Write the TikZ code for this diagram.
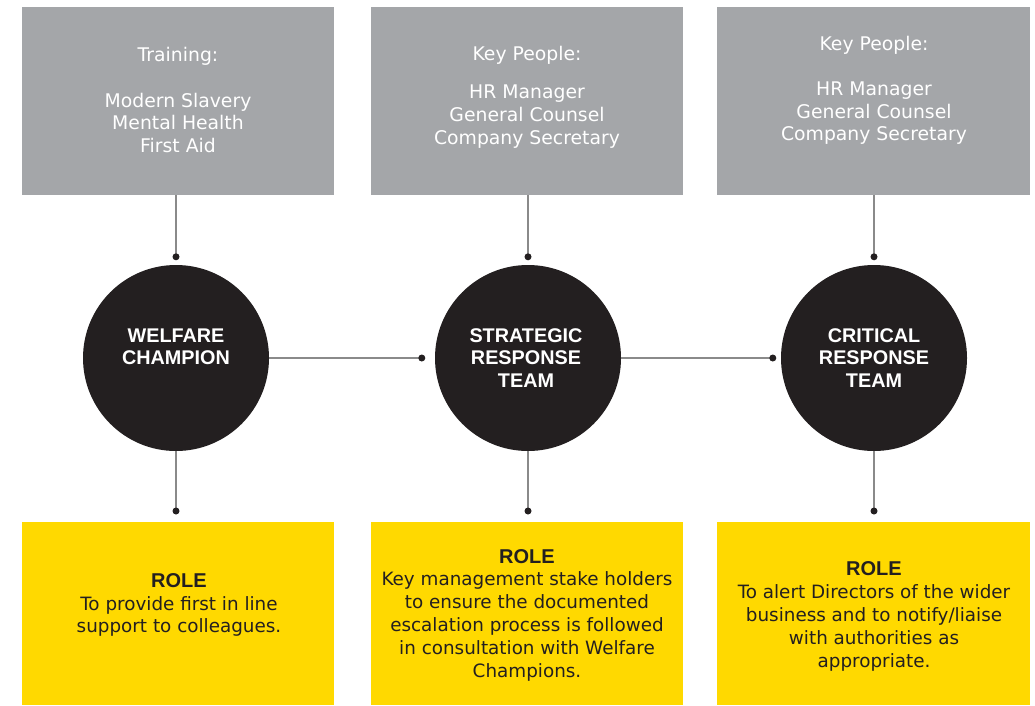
\documentclass[tikz,border=0pt]{standalone}
\usepackage{fontspec}
\setmainfont{DejaVu Sans}
\newfontfamily\headfont{Liberation Sans}
\usetikzlibrary{calc}
\definecolor{boxgray}{HTML}{A4A6A9}
\definecolor{roleyellow}{HTML}{FFD900}
\definecolor{darkcirc}{HTML}{231F20}
\definecolor{linegray}{HTML}{8A8A8A}
\newcommand{\rolehead}{{\headfont\bfseries\fontsize{20}{22.8}\selectfont ROLE}}
\begin{document}
\begin{tikzpicture}[x=1pt,y=-1pt,
  graybox/.style={fill=boxgray, minimum width=312pt, minimum height=188pt, inner sep=0pt, anchor=north west},
  yellowbox/.style={fill=roleyellow, minimum width=312pt, minimum height=183pt, inner sep=0pt, anchor=north west},
  bigcirc/.style={circle, fill=darkcirc, minimum size=186pt, inner sep=0pt},
  toptext/.style={text=white, align=center, inner sep=0pt, font=\fontsize{18.8}{22.7}\selectfont},
  circtext/.style={text=white, align=center, inner sep=0pt, font=\headfont\bfseries\fontsize{19.8}{22.5}\selectfont},
  roletext/.style={text=darkcirc, align=center, inner sep=0pt, font=\fontsize{18.35}{22.8}\selectfont},
  conn/.style={draw=linegray, line width=1.1pt},
  dotmark/.style={fill=darkcirc, circle, minimum size=7pt, inner sep=0pt}
]
\useasboundingbox (0,0) rectangle (1035,705);
\fill[white] (0,0) rectangle (1035,705);

% top boxes
\node[graybox] (t1) at (22,7) {};
\node[graybox] (t2) at (371,7) {};
\node[graybox, minimum width=313pt] (t3) at (717,7) {};

% circles
\node[bigcirc] (c1) at (176,358) {};
\node[bigcirc] (c2) at (528,358) {};
\node[bigcirc] (c3) at (874,358) {};

% bottom boxes
\node[yellowbox] (b1) at (22,522) {};
\node[yellowbox] (b2) at (371,522) {};
\node[yellowbox, minimum width=313pt] (b3) at (717,522) {};

% top texts
\node[toptext] (tt1) at (178,100) {Training:\\[22.7pt]Modern Slavery\\Mental Health\\First Aid};
\node[toptext] (tt2) at (527,97) {Key People:\\[16pt]HR Manager\\General Counsel\\Company Secretary};
\node[toptext] (tt3) at (874,90.5) {Key People:\\[22pt]HR Manager\\General Counsel\\Company Secretary};

% circle texts
\node[circtext] (ct1) at (176,347) {WELFARE\\CHAMPION};
\node[circtext] (ct2) at (526,358) {STRATEGIC\\RESPONSE\\TEAM};
\node[circtext] (ct3) at (874,358) {CRITICAL\\RESPONSE\\TEAM};

% role texts
\node[roletext] (rt1) at (179,605) {\rolehead\\To provide first in line\\support to colleagues.};
\node[roletext] (rt2) at (527,615) {\rolehead\\Key management stake holders\\to ensure the documented\\escalation process is followed\\in consultation with Welfare\\Champions.};
\node[roletext] (rt3) at (874,616.5) {\rolehead\\To alert Directors of the wider\\business and to notify/liaise\\with authorities as\\appropriate.};

% connector end points
\coordinate (d1t) at ($(c1.north)+(0,-8)$);
\coordinate (d2t) at ($(c2.north)+(0,-8)$);
\coordinate (d3t) at ($(c3.north)+(0,-8)$);
\coordinate (d1b) at ($(c1.south |- b1.north)+(0,-11)$);
\coordinate (d2b) at ($(c2.south |- b2.north)+(0,-11)$);
\coordinate (d3b) at ($(c3.south |- b3.north)+(0,-11)$);
\coordinate (d2h) at ($(c2.west)+(-13,0)$);
\coordinate (d3h) at ($(c3.west)+(-8,0)$);

\draw[conn] (t1.south -| c1) -- (d1t);
\draw[conn] (t2.south -| c2) -- (d2t);
\draw[conn] (t3.south -| c3) -- (d3t);
\draw[conn] (c1.south) -- (d1b);
\draw[conn] (c2.south) -- (d2b);
\draw[conn] (c3.south) -- (d3b);
\draw[conn] (c1.east) -- (d2h);
\draw[conn] (c2.east) -- (d3h);

\node[dotmark] (m1) at (d1t) {};
\node[dotmark] (m2) at (d2t) {};
\node[dotmark] (m3) at (d3t) {};
\node[dotmark] (m4) at (d1b) {};
\node[dotmark] (m5) at (d2b) {};
\node[dotmark] (m6) at (d3b) {};
\node[dotmark] (m7) at (d2h) {};
\node[dotmark] (m8) at (d3h) {};
\end{tikzpicture}
\end{document}
